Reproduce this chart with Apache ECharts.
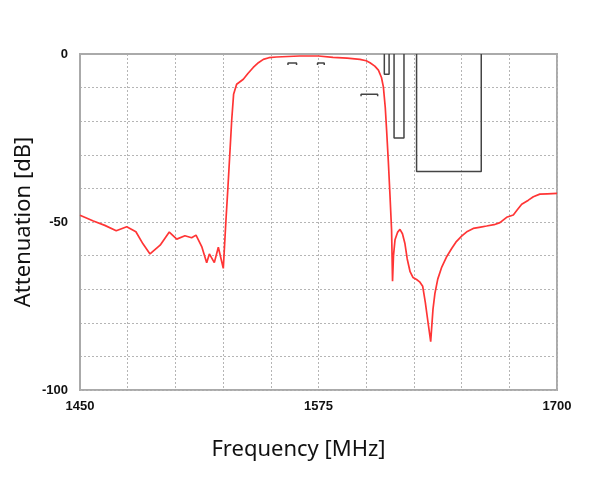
<!DOCTYPE html>
<html>
<head>
<meta charset="UTF-8">
<title></title>
<style type="text/css">
	* { margin: 0; padding: 0; }
	#chart { width: 600px; height: 480px; background: #fff; }
</style>
</head>
<body>
<div id="chart"></div>
<script src="https://cdn.jsdelivr.net/npm/echarts@6/dist/echarts.min.js"></script>
<script type="text/javascript">
	// frequency [MHz] / attenuation [dB]
	var freqs = [1450, 1457, 1463, 1469, 1474.5, 1479.3, 1483, 1486.7, 1492, 1496.8,
		1500.7, 1505, 1508.5, 1510.8, 1513.8, 1516.4, 1517.8, 1520.4, 1522.5, 1525.1,
		1526.5, 1527.5, 1528.5, 1529.5, 1530.5, 1532.1, 1535.6, 1538, 1540.8, 1543.5,
		1546.1, 1549, 1553, 1565, 1575, 1582.6, 1590, 1596.7, 1600, 1602,
		1604.5, 1606.4, 1608, 1609, 1610, 1610.7, 1611.6, 1612.5, 1613.3, 1613.8,
		1614.3, 1615.1, 1616.5, 1617.7, 1619, 1620.3, 1621.5, 1623, 1624.5, 1626.4,
		1628, 1629.6, 1631, 1632, 1633.8, 1635, 1636, 1637.5, 1639.6, 1642,
		1644.8, 1647, 1650, 1653, 1656.1, 1660, 1663.1, 1667, 1670.1, 1673.6,
		1677.1, 1679, 1681.5, 1685, 1687.6, 1691, 1695, 1700];
	var atten = [-48.0, -49.7, -51.0, -52.6, -51.4, -52.9, -56.5, -59.5, -56.9, -53.0,
		-55.1, -54.1, -54.7, -53.9, -57.3, -62.1, -59.5, -62.1, -57.5, -63.8,
		-49.4, -40, -30, -19.8, -12, -9.0, -7.5, -5.8, -4.0, -2.6,
		-1.6, -1.1, -0.9, -0.6, -0.6, -1.0, -1.2, -1.6, -2.0, -2.6,
		-3.6, -4.8, -7, -9.8, -16, -22.7, -32, -42.5, -52.4, -67.6,
		-60, -55.3, -53, -52.2, -53.5, -56.4, -61, -64.8, -66.5, -67.1,
		-67.8, -69.1, -74, -78.2, -85.6, -76, -71.3, -67, -63.4, -60.5,
		-57.9, -56, -54.2, -52.8, -51.9, -51.5, -51.2, -50.8, -50.2, -48.6,
		-47.9, -46.5, -44.7, -43.5, -42.5, -41.7, -41.6, -41.5];

	// spec masks
	var maskBeidou = [[1559, -3.3], [1559, -2.7], [1563.5, -2.7], [1563.5, -3.3]];
	var maskGps = [[1574.5, -3.3], [1574.5, -2.7], [1578, -2.7], [1578, -3.3]];
	var maskGlonass = [[1597.3, -12.6], [1597.3, -12], [1606, -12], [1606, -12.6]];
	var maskA = [[1609.5, 0], [1609.5, -6], [1612, -6], [1612, 0]];
	var maskB = [[1614.6, 0], [1614.6, -25], [1619.8, -25], [1619.8, 0]];
	var maskC = [[1626.4, 0], [1626.4, -35], [1660.3, -35], [1660.3, 0]];

	var xLabels = [1450, 1575, 1700];
	var yLabels = [0, -50, -100];

	var myChart = echarts.init(document.getElementById('chart'));

	var curve = [];
	for (var i = 0; i < freqs.length; i++) {
		curve.push([freqs[i], atten[i]]);
	}

	function maskSeries(d) {
		return {
			type: 'line',
			data: d,
			symbol: 'none',
			silent: true,
			z: 3,
			lineStyle: { color: '#444', width: 1.5 }
		};
	}

	var labelFont = {
		fontFamily: 'Liberation Sans',
		fontWeight: 'bold',
		fontSize: 13,
		color: '#111'
	};

	var option = {
		animation: false,
		grid: {
			left: 80, right: 43, top: 54, bottom: 90,
			show: true,
			borderColor: '#aaa',
			borderWidth: 2
		},
		xAxis: {
			type: 'value',
			min: 1450, max: 1700, interval: 25,
			name: 'Frequency [MHz]',
			nameLocation: 'middle',
			nameGap: 49,
			nameTextStyle: { fontFamily: 'Noto Sans', fontSize: 22, color: '#111', padding: [0, 40, 0, 0] },
			axisLine: { lineStyle: { color: '#aaa', width: 2 } },
			axisTick: { show: false },
			axisLabel: Object.assign({
				margin: 10,
				formatter: function (v) { return xLabels.indexOf(v) >= 0 ? String(v) : ''; }
			}, labelFont),
			splitLine: { lineStyle: { color: '#b5b5b5', type: [2, 2], width: 1 } }
		},
		yAxis: {
			type: 'value',
			min: -100, max: 0, interval: 10,
			name: 'Attenuation [dB]',
			nameLocation: 'middle',
			nameGap: 45,
			nameMoveOverlap: false,
			nameRotate: 90,
			nameTextStyle: { fontFamily: 'Noto Sans', fontSize: 22, color: '#111' },
			axisLine: { show: true, lineStyle: { color: '#aaa', width: 2 } },
			axisTick: { show: false },
			axisLabel: Object.assign({
				margin: 12,
				formatter: function (v) { return yLabels.indexOf(v) >= 0 ? String(v) : ''; }
			}, labelFont),
			splitLine: { lineStyle: { color: '#b5b5b5', type: [2, 2], width: 1 } }
		},
		series: [
			{
				type: 'line',
				data: curve,
				symbol: 'none',
				z: 4,
				lineStyle: { color: '#ff3535', width: 1.7 }
			},
			maskSeries(maskBeidou),
			maskSeries(maskGps),
			maskSeries(maskGlonass),
			maskSeries(maskA),
			maskSeries(maskB),
			maskSeries(maskC)
		]
	};

	myChart.setOption(option);
</script>
</body>
</html>
